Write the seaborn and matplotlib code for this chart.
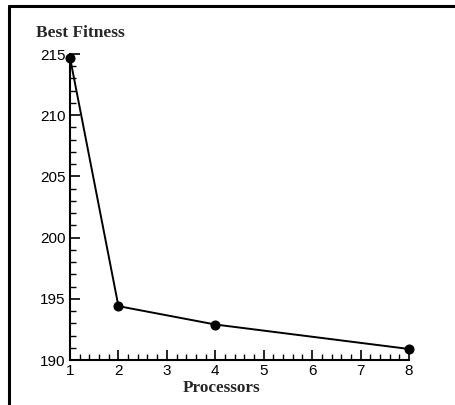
import matplotlib
matplotlib.use("Agg")
import matplotlib.pyplot as plt
from matplotlib.lines import Line2D
from matplotlib.ticker import AutoMinorLocator
import seaborn as sns
import pandas as pd

processors = [1, 2, 4, 8]
best_fitness = [214.7, 194.4, 192.9, 190.9]
x_ticks = [1, 2, 3, 4, 5, 6, 7, 8]
y_ticks = [190, 195, 200, 205, 210, 215]

sns.set_style("ticks")
plt.rcParams["font.family"] = ["Liberation Sans", "DejaVu Sans"]

df = pd.DataFrame({"Processors": processors, "Best Fitness": best_fitness})

W, H = 456, 405
fig = plt.figure(figsize=(W / 100, H / 100), dpi=100)
ax = fig.add_axes([70 / W, 1 - 360 / H, (409 - 70) / W, (360 - 54) / H])

sns.lineplot(data=df, x="Processors", y="Best Fitness", ax=ax, color="black",
             linewidth=1.4, marker="o", markersize=6.5, markeredgecolor="black",
             markerfacecolor="black", clip_on=False, zorder=5)

ax.set_xlim(1, 8)
ax.set_ylim(190, 215)
ax.set_xticks(x_ticks)
ax.set_yticks(y_ticks)
ax.xaxis.set_minor_locator(AutoMinorLocator(5))
ax.yaxis.set_minor_locator(AutoMinorLocator(5))
ax.tick_params(which="major", direction="in", length=7, width=1.2, labelsize=11,
               colors="black", pad=3)
ax.tick_params(which="minor", direction="in", length=4, width=1.0, colors="black")
ax.tick_params(axis="y", pad=3)
for s in ["top", "right"]:
    ax.spines[s].set_visible(False)
for s in ["left", "bottom"]:
    ax.spines[s].set_linewidth(1.5)
    ax.spines[s].set_color("black")
ax.set_xlabel("")
ax.set_ylabel("")

fig.text(36 / W, 1 - 33 / H, "Best Fitness", family="Liberation Serif",
         fontweight="bold", fontsize=12.5, ha="left", va="center")
fig.text(222 / W, 1 - 388 / H, "Processors", family="Liberation Serif",
         fontweight="bold", fontsize=12.3, ha="center", va="center")

# outer frame (top and left edges visible)
fig.add_artist(Line2D([9.5 / W, 9.5 / W], [0, 1 - 5.5 / H], color="black",
                      linewidth=2.2, transform=fig.transFigure))
fig.add_artist(Line2D([9.5 / W, 1], [1 - 5.5 / H, 1 - 5.5 / H], color="black",
                      linewidth=2.2, transform=fig.transFigure))

fig.savefig("out.png", dpi=100)
